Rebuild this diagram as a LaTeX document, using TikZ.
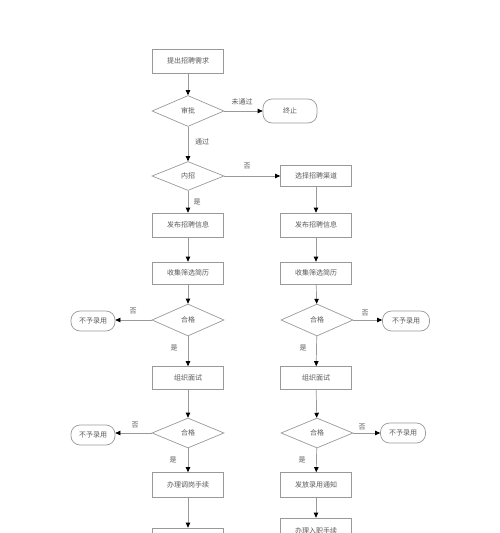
\documentclass[tikz,border=0pt]{standalone}
\usepackage{fontspec}
\setmainfont{Noto Sans CJK SC}
\usetikzlibrary{shapes.geometric,arrows.meta}
\definecolor{ln}{HTML}{999999}
\definecolor{tx}{HTML}{5A5A5A}
\tikzset{
  base/.style={draw=ln,line width=0.7pt,text=tx,font=\fontsize{7}{8}\selectfont,inner sep=0pt},
  procbox/.style={base,rectangle,minimum width=71pt,minimum height=24pt},
  decide/.style={base,diamond,minimum width=72pt,minimum height=31pt},
  term/.style={base,rectangle,rounded corners=9pt,minimum height=20pt},
  flow/.style={draw=ln,line width=0.7pt,-{Triangle[length=5pt,width=4.5pt,color=black]}},
  lbl/.style={text=tx,font=\fontsize{7}{8}\selectfont,inner sep=0pt}
}
\begin{document}
\begin{tikzpicture}[x=1pt,y=-1pt]
\useasboundingbox (0,0) rectangle (500,533);
\clip (0,0) rectangle (500,533);
\fill[white] (0,0) rectangle (500,533);
\node[procbox] (n1) at (188,61) {提出招聘需求};
\node[decide] (d1) at (188,111) {审批};
\node[term,minimum width=54pt,minimum height=24pt] (t1) at (290,111) {终止};
\node[decide,minimum height=29pt] (d2) at (188,176) {内招};
\node[procbox,minimum height=21pt] (r1) at (316,176) {选择招聘渠道};
\node[procbox] (l1) at (188,225) {发布招聘信息};
\node[procbox] (r2) at (316,225) {发布招聘信息};
\node[procbox,minimum height=22pt] (l2) at (188,273) {收集筛选简历};
\node[procbox,minimum height=22pt] (r3) at (316,273) {收集筛选简历};
\node[decide,minimum height=32pt] (d3) at (188,320) {合格};
\node[decide,minimum height=32pt] (rd3) at (317,320) {合格};
\node[term,minimum width=44pt] (tl1) at (93,321) {不予录用};
\node[term,minimum width=47pt] (tr1) at (406,321) {不予录用};
\node[procbox,minimum height=23pt] (l3) at (188,378) {组织面试};
\node[procbox,minimum height=23pt] (r4) at (316,378) {组织面试};
\node[decide,minimum height=30pt] (d4) at (188,433) {合格};
\node[decide,minimum height=30pt] (rd4) at (317,433) {合格};
\node[term,minimum width=44pt] (tl2) at (93,435) {不予录用};
\node[term,minimum width=45pt] (tr2) at (403,433) {不予录用};
\node[procbox,minimum height=25pt] (l4) at (188,485) {办理调岗手续};
\node[procbox,minimum height=25pt] (r5) at (316,485) {发放录用通知};
\node[procbox,minimum height=25pt] (r6) at (316,530.5) {办理入职手续};
\node[procbox,minimum height=25pt] (l5) at (188,540.5) {};
\draw[flow] (n1) -- (d1);
\draw[flow] (d1.east) -- (t1.west);
\draw[flow] (d1) -- (d2);
\draw[flow] (d2.east) -- (r1.west);
\draw[flow] (d2) -- (l1);
\draw[flow] (l1) -- (l2);
\draw[flow] (r1) -- (r2);
\draw[flow] (r2) -- (r3);
\draw[flow] (l2) -- (d3);
\draw[flow] (r3) -- (rd3);
\draw[flow] (d3.west) -- (d3.west -| tl1.east);
\draw[flow] (rd3.east) -- (rd3.east -| tr1.west);
\draw[flow] (d3) -- (l3);
\draw[flow] (rd3) -- (r4);
\draw[flow] (l3) -- (d4);
\draw[flow] (r4) -- (rd4);
\draw[flow] (d4.west) -- (d4.west -| tl2.east);
\draw[flow] (rd4.east) -- (rd4.east -| tr2.west);
\draw[flow] (d4) -- (l4);
\draw[flow] (rd4) -- (r5);
\draw[flow] (r5) -- (r6);
\draw[flow] (l4) -- (l5);
\node[lbl] at (242,102) {未通过};
\node[lbl] at (202,142) {通过};
\node[lbl] at (247,166) {否};
\node[lbl] at (197,202) {是};
\node[lbl] at (133,311) {否};
\node[lbl] at (174,348) {是};
\node[lbl] at (365,313) {否};
\node[lbl] at (303,348) {是};
\node[lbl] at (135,425) {否};
\node[lbl] at (173,460) {是};
\node[lbl] at (362,427) {否};
\node[lbl] at (302,460) {是};
\end{tikzpicture}
\end{document}
